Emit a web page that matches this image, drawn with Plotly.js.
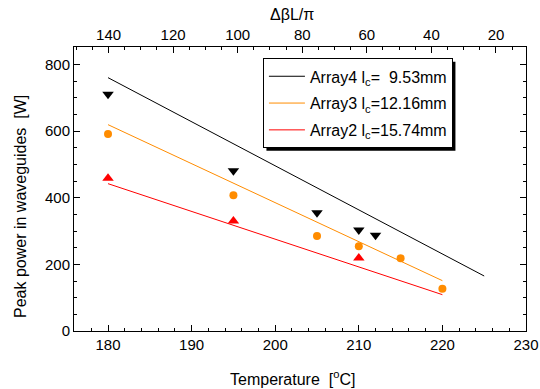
<!DOCTYPE html>
<html>
<head>
<meta charset="utf-8">
<script src="https://cdn.plot.ly/plotly-3.0.1.min.js"></script>
<style>html,body{margin:0;padding:0;background:#fff;}#chart{width:540px;height:389px;}</style>
</head>
<body>
<div id="chart"></div>
<script>
// Measured points
const tempA4 = [180, 195, 205, 210, 212];
const powA4  = [710, 481, 355, 303, 287];
const tempA3 = [180, 195, 205, 210, 215, 220];
const powA3  = [591, 407, 285, 254, 218, 127];
const tempA2 = [180, 195, 210];
const powA2  = [458, 330, 219];
// Linear fits (end points)
const fitA4T = [180, 225];
const fitA4P = [760, 165];
const fitA3T = [180, 220];
const fitA3P = [619, 151];
const fitA2T = [180, 220];
const fitA2P = [442, 109];
// Legend names and titles
const names = ["Array4 l<sub>c</sub>=\u00a0 9.53mm", "Array3 l<sub>c</sub>=12.16mm", "Array2 l<sub>c</sub>=15.74mm"];
const colors = ["#000000", "#FF8C00", "#FF0000"];
const xTitle = 'Temperature\u00a0 [<sup>o</sup>C]';
const yTitle = 'Peak power in waveguides\u00a0 [W]';
const topTitle = '\u0394\u03b2L/\u03c0';
// Top axis (ΔβL/π) range
const topRange = [150.7, 10.7];

const traces = [
  {x: fitA4T, y: fitA4P, mode: 'lines', name: names[0], legendgroup: 'a4', line: {color: colors[0], width: 1}},
  {x: fitA3T, y: fitA3P, mode: 'lines', name: names[1], legendgroup: 'a3', line: {color: colors[1], width: 1}},
  {x: fitA2T, y: fitA2P, mode: 'lines', name: names[2], legendgroup: 'a2', line: {color: colors[2], width: 1}},
  {x: tempA4, y: powA4, mode: 'markers', showlegend: false, marker: {symbol: 'triangle-down', size: 10, color: colors[0]}},
  {x: tempA3, y: powA3, mode: 'markers', showlegend: false, marker: {symbol: 'circle', size: 8, color: colors[1]}},
  {x: tempA2, y: powA2, mode: 'markers', showlegend: false, marker: {symbol: 'triangle-up', size: 10, color: colors[2]}},
  {x: topRange, y: [null, null], xaxis: 'x2', mode: 'lines', showlegend: false, hoverinfo: 'skip'}
];

const fnt = {family: 'Liberation Sans, Arial, sans-serif', size: 15, color: '#000'};
const tfnt = {family: 'Liberation Sans, Arial, sans-serif', size: 16, color: '#000'};

const L0 = 74, R0 = 14, T0 = 47, B0 = 58, W = 540, H = 389;
const pw = W - L0 - R0, ph = H - T0 - B0;
const px = v => (v - L0) / pw;
const py = v => (H - B0 - v) / ph;

const layout = {
  width: W, height: H,
  margin: {l: L0, r: R0, t: T0, b: B0},
  paper_bgcolor: '#fff', plot_bgcolor: '#fff',
  font: fnt,
  showlegend: true,
  legend: {
    x: 0.418, y: 0.96, xanchor: 'left', yanchor: 'top',
    bgcolor: '#fff', bordercolor: '#000', borderwidth: 1,
    font: {family: 'Liberation Sans, Arial, sans-serif', size: 16, color: '#000'},
    tracegroupgap: 3, itemwidth: 36
  },
  xaxis: {
    range: [175.93, 230], dtick: 10, tick0: 0,
    ticks: 'inside', ticklen: 6, tickcolor: '#000', tickwidth: 1,
    minor: {dtick: 2, ticks: 'inside', ticklen: 3, tickcolor: '#000'},
    showline: true, linecolor: '#000', linewidth: 1, mirror: false,
    showgrid: false, zeroline: false,
    tickfont: fnt
  },
  xaxis2: {
    overlaying: 'x', side: 'top', anchor: 'y',
    range: topRange, dtick: 20, tick0: 0,
    ticks: 'inside', ticklen: 6, tickcolor: '#000', tickwidth: 1,
    minor: {dtick: 5, ticks: 'inside', ticklen: 3, tickcolor: '#000'},
    showline: true, linecolor: '#000', linewidth: 1,
    showgrid: false, zeroline: false,
    tickfont: fnt
  },
  yaxis: {
    range: [0, 852], dtick: 200, tick0: 0,
    ticks: 'inside', ticklen: 6, tickcolor: '#000', tickwidth: 1,
    minor: {dtick: 50, ticks: 'inside', ticklen: 3, tickcolor: '#000'},
    showline: true, linecolor: '#000', linewidth: 1, mirror: 'ticks',
    showgrid: false, zeroline: false,
    tickfont: fnt
  },
  annotations: [
    {text: xTitle, xref: 'paper', yref: 'paper', x: px(292), y: py(378), xanchor: 'center', yanchor: 'middle', showarrow: false, font: tfnt},
    {text: yTitle, xref: 'paper', yref: 'paper', x: px(20), y: py(207), xanchor: 'center', yanchor: 'middle', textangle: -90, showarrow: false, font: tfnt},
    {text: topTitle, xref: 'paper', yref: 'paper', x: px(292), y: py(14), xanchor: 'center', yanchor: 'middle', showarrow: false, font: tfnt}
  ]
};

Plotly.newPlot('chart', traces, layout, {displayModeBar: false, staticPlot: true}).then(function (gd) {
  // add a drop shadow matching the rendered legend box
  const bg = gd.querySelector('.legend .bg');
  if (!bg) return;
  const r = bg.getBoundingClientRect();
  const g = gd.getBoundingClientRect();
  const L = r.left - g.left, T = r.top - g.top, R = r.right - g.left, B = r.bottom - g.top;
  return Plotly.relayout(gd, {shapes: [{
    type: 'rect', xref: 'paper', yref: 'paper', layer: 'above',
    x0: px(L + 3), x1: px(R + 3), y0: py(B + 3), y1: py(T + 3),
    fillcolor: '#000', line: {width: 0}
  }]});
});
</script>
</body>
</html>
